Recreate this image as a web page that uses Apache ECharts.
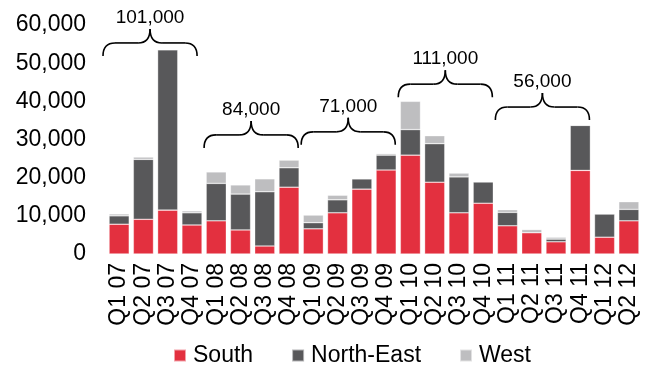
<!DOCTYPE html>
<html>
<head>
<meta charset="utf-8">
<script src="https://cdn.jsdelivr.net/npm/echarts@6/dist/echarts.min.js"></script>
<style>
  html, body { margin: 0; padding: 0; background: #fff; }
  #chart { width: 651px; height: 365px; }
</style>
</head>
<body>
<div id="chart"></div>
<script>
// Quarterly volumes by region, stacked
const quarters = ['Q1 07','Q2 07','Q3 07','Q4 07','Q1 08','Q2 08','Q3 08','Q4 08',
  'Q1 09','Q2 09','Q3 09','Q4 09','Q1 10','Q2 10','Q3 10','Q4 10',
  'Q1 11','Q2 11','Q3 11','Q4 11','Q1 12','Q2 12'];
const south = [7800, 9100, 11500, 7600, 8700, 6300, 2100, 17500, 6600, 10800, 17000, 22000,
  25900, 18800, 10800, 13300, 7400, 5600, 3200, 21900, 4400, 8700];
const northEast = [2200, 15700, 42000, 3200, 9800, 9400, 14200, 5100, 1600, 3400, 2700, 3900,
  6700, 10100, 9400, 5600, 3500, 0, 700, 11800, 6100, 3000];
const west = [500, 600, 0, 500, 3000, 2400, 3400, 2000, 2000, 1200, 0, 400,
  7400, 2100, 1000, 0, 700, 800, 500, 0, 0, 2000];
const yTicks = [0, 10000, 20000, 30000, 40000, 50000, 60000];

// Annual totals shown over braces: first quarter index, last quarter index, label
const yearFirst = [0, 4, 8, 12, 16];
const yearLast = [3, 7, 11, 15, 19];
const yearTotals = ['101,000', '84,000', '71,000', '111,000', '56,000'];
// Height (in axis units) at which each brace sits, and a small horizontal nudge in px
const braceLevels = [55300, 31200, 32000, 44500, 38500];
const braceShift = [-4, 0, 0, 0, 0];

const FONT = '"Liberation Sans", Arial, sans-serif';
const colors = { south: '#E3303F', ne: '#58585A', west: '#BEBEC0' };

const chart = echarts.init(document.getElementById('chart'), null, { renderer: 'canvas' });

function barSeries(name, data, color) {
  return {
    name, type: 'bar', stack: 'total', data,
    barCategoryGap: '17%',
    itemStyle: { color, borderColor: 'rgba(255,255,255,0.55)', borderWidth: 0.6 }
  };
}

chart.setOption({
  animation: false,
  textStyle: { fontFamily: FONT },
  grid: { left: 107, right: 10, top: 25, bottom: 111 },
  legend: {
    top: 339, left: 168,
    itemWidth: 12, itemHeight: 12, itemGap: 38,
    icon: 'rect',
    textStyle: { fontSize: 23, color: '#000', fontFamily: FONT, padding: [0, 0, 0, 2] },
    data: ['South', 'North-East', 'West']
  },
  xAxis: {
    type: 'category', data: quarters,
    axisLine: { show: false }, axisTick: { show: false },
    axisLabel: { rotate: 90, margin: 9, fontSize: 23, color: '#000', fontFamily: FONT, interval: 0 }
  },
  yAxis: {
    type: 'value', min: yTicks[0], max: yTicks[yTicks.length - 1], interval: 10000,
    splitLine: { show: false }, axisLine: { show: false }, axisTick: { show: false },
    axisLabel: {
      margin: 21, fontSize: 23, color: '#000', fontFamily: FONT,
      formatter: v => v.toLocaleString('en-US')
    }
  },
  series: [
    barSeries('South', south, colors.south),
    barSeries('North-East', northEast, colors.ne),
    barSeries('West', west, colors.west)
  ]
});

// Curly braces with year totals, positioned through the axes
const step = chart.convertToPixel({ xAxisIndex: 0 }, 1) - chart.convertToPixel({ xAxisIndex: 0 }, 0);
const stroke = { stroke: '#000', lineWidth: 1.6, fill: null };
const graphics = [];
function curve(x1, y1, cx, cy, x2, y2) {
  return { type: 'bezierCurve', shape: { x1, y1, cpx1: cx, cpy1: cy, x2, y2 }, style: stroke };
}
function seg(x1, y1, x2, y2) {
  return { type: 'line', shape: { x1, y1, x2, y2 }, style: stroke };
}
yearTotals.forEach((label, i) => {
  const x0 = chart.convertToPixel({ xAxisIndex: 0 }, yearFirst[i]) - step / 2 + braceShift[i];
  const x1 = chart.convertToPixel({ xAxisIndex: 0 }, yearLast[i]) + step / 2 - 3 + braceShift[i];
  const y = chart.convertToPixel({ yAxisIndex: 0 }, braceLevels[i]);
  const xm = (x0 + x1) / 2;
  const d = 13, t = 14, r = 12;
  graphics.push(
    curve(x0, y + d, x0, y, x0 + r, y),
    seg(x0 + r, y, xm - r, y),
    curve(xm - r, y, xm, y, xm, y - t),
    curve(xm, y - t, xm, y, xm + r, y),
    seg(xm + r, y, x1 - r, y),
    curve(x1 - r, y, x1, y, x1, y + d)
  );
  graphics.push({
    type: 'text', x: xm, y: y - t - 11,
    style: { text: label, fontSize: 19, fontFamily: FONT, fill: '#000', align: 'center', verticalAlign: 'middle' }
  });
});
chart.setOption({ graphic: graphics });
</script>
</body>
</html>
